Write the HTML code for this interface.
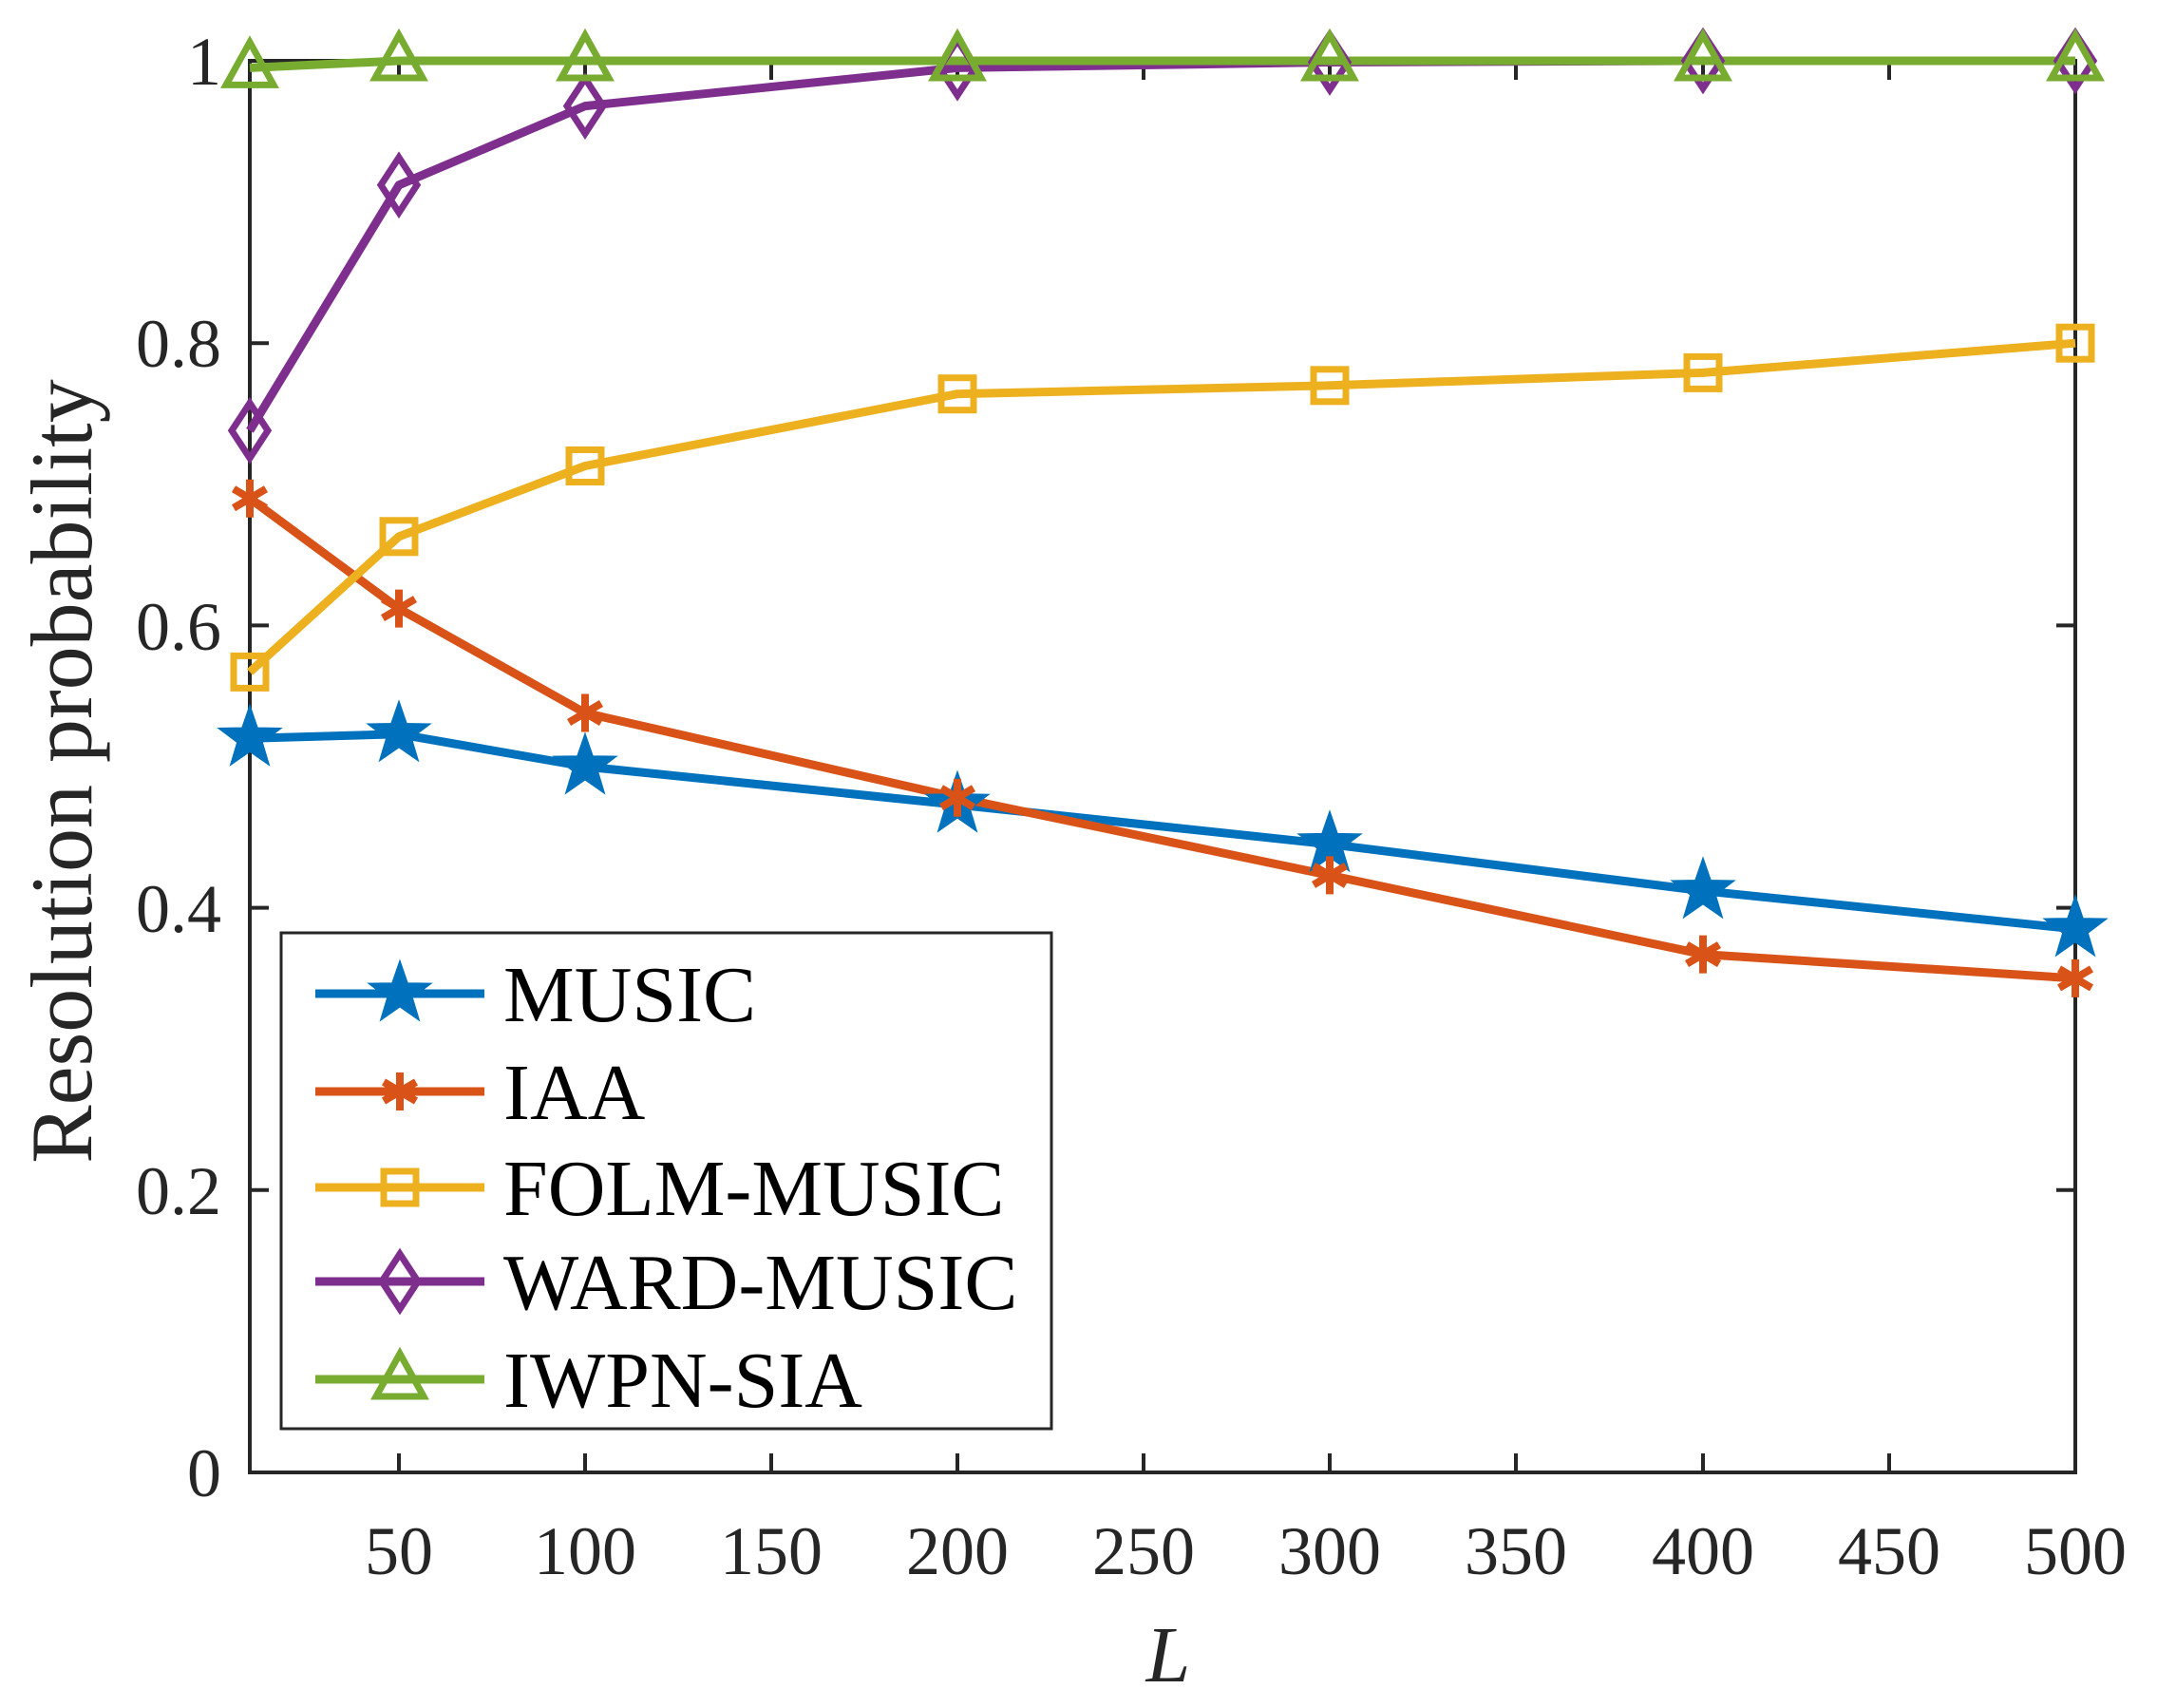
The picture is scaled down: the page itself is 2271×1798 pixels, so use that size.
<!DOCTYPE html>
<html><head><meta charset="utf-8"><style>body{margin:0;background:#fff}svg{display:block}</style></head><body>
<svg width="2271" height="1798" viewBox="0 0 2271 1798" xmlns="http://www.w3.org/2000/svg" font-family="'Liberation Serif',serif" fill="#262626">
<defs>
<g id="star"><path d="M0,-32 L7.5,-10.3 L30.4,-9.9 L12.2,3.9 L18.8,25.9 L0,12.8 L-18.8,25.9 L-12.2,3.9 L-30.4,-9.9 L-7.5,-10.3Z" fill="#0072BD" stroke="#0072BD" stroke-width="3"/></g>
<g id="ast" stroke="#D95319" stroke-width="8" fill="none"><path d="M0,-20V20M-17,-10L17,10M-17,10L17,-10"/></g>
<g id="sq"><rect x="-17" y="-17" width="34" height="34" fill="none" stroke="#EDB120" stroke-width="7"/></g>
<g id="dia"><path d="M0,-29L19,0L0,29L-19,0Z" fill="none" stroke="#7E2F8E" stroke-width="7"/></g>
<g id="tri"><path d="M0,-27L25,18L-25,18Z" fill="none" stroke="#77AC30" stroke-width="7"/></g>
</defs>
<rect x="263" y="64" width="1922" height="1486" fill="none" stroke="#262626" stroke-width="4"/>
<g stroke="#262626" stroke-width="4">
<path d="M420,1550v-20M616,1550v-20M812,1550v-20M1008,1550v-20M1204,1550v-20M1400,1550v-20M1596,1550v-20M1793,1550v-20M1989,1550v-20"/>
<path d="M420,64v20M616,64v20M812,64v20M1008,64v20M1204,64v20M1400,64v20M1596,64v20M1793,64v20M1989,64v20"/>
<path d="M263,1252.8h20M263,955.6h20M263,658.4h20M263,361.2h20M2185,1252.8h-20M2185,955.6h-20M2185,658.4h-20M2185,361.2h-20"/>
</g>
<g font-size="72" text-anchor="middle">
<text x="420" y="1657">50</text><text x="616" y="1657">100</text><text x="812" y="1657">150</text><text x="1008" y="1657">200</text><text x="1204" y="1657">250</text><text x="1400" y="1657">300</text><text x="1596" y="1657">350</text><text x="1793" y="1657">400</text><text x="1989" y="1657">450</text><text x="2185" y="1657">500</text>
</g>
<g font-size="72" text-anchor="end">
<text x="233" y="1575">0</text><text x="233" y="1278">0.2</text><text x="233" y="981">0.4</text><text x="233" y="684">0.6</text><text x="233" y="386">0.8</text><text x="233" y="89">1</text>
</g>
<text x="1230" y="1770" font-size="84" font-style="italic" text-anchor="middle">L</text>
<text transform="translate(96,812) rotate(-90)" font-size="92" text-anchor="middle">Resolution probability</text>
<g fill="none" stroke-width="9" stroke-linejoin="round">
<polyline stroke="#0072BD" points="263,777.3 420,772.8 616,807 1008,847.1 1400,888.7 1793,937.8 2185,977.9"/>
<polyline stroke="#D95319" points="263,524.7 420,640.6 616,750.5 1008,839.7 1400,921.4 1793,1004.6 2185,1029.9"/>
<polyline stroke="#EDB120" points="263,707.4 420,564.8 616,490.5 1008,414.7 1400,405.8 1793,392.4 2185,361.2"/>
<polyline stroke="#7E2F8E" points="263,453.3 420,194.8 616,111.6 1008,71.4 1400,65.5 1793,64 2185,64"/>
<polyline stroke="#77AC30" points="263,71.4 420,64 616,64 1008,64 1400,64 1793,64 2185,64"/>
</g>
<use href="#star" x="263" y="777.3"/><use href="#star" x="420" y="772.8"/><use href="#star" x="616" y="807"/><use href="#star" x="1008" y="847.1"/><use href="#star" x="1400" y="888.7"/><use href="#star" x="1793" y="937.8"/><use href="#star" x="2185" y="977.9"/>
<use href="#ast" x="263" y="524.7"/><use href="#ast" x="420" y="640.6"/><use href="#ast" x="616" y="750.5"/><use href="#ast" x="1008" y="839.7"/><use href="#ast" x="1400" y="921.4"/><use href="#ast" x="1793" y="1004.6"/><use href="#ast" x="2185" y="1029.9"/>
<use href="#sq" x="263" y="707.4"/><use href="#sq" x="420" y="564.8"/><use href="#sq" x="616" y="490.5"/><use href="#sq" x="1008" y="414.7"/><use href="#sq" x="1400" y="405.8"/><use href="#sq" x="1793" y="392.4"/><use href="#sq" x="2185" y="361.2"/>
<use href="#dia" x="263" y="453.3"/><use href="#dia" x="420" y="194.8"/><use href="#dia" x="616" y="111.6"/><use href="#dia" x="1008" y="71.4"/><use href="#dia" x="1400" y="65.5"/><use href="#dia" x="1793" y="64"/><use href="#dia" x="2185" y="64"/>
<use href="#tri" x="263" y="71.4"/><use href="#tri" x="420" y="64"/><use href="#tri" x="616" y="64"/><use href="#tri" x="1008" y="64"/><use href="#tri" x="1400" y="64"/><use href="#tri" x="1793" y="64"/><use href="#tri" x="2185" y="64"/>
<rect x="296" y="982" width="811" height="522" fill="#fff" stroke="#262626" stroke-width="3"/>
<g stroke-width="9">
<path d="M332,1046H510" stroke="#0072BD"/><path d="M332,1149H510" stroke="#D95319"/><path d="M332,1250H510" stroke="#EDB120"/><path d="M332,1349H510" stroke="#7E2F8E"/><path d="M332,1452H510" stroke="#77AC30"/>
</g>
<use href="#star" x="421" y="1046"/><use href="#ast" x="421" y="1149"/><use href="#sq" x="421" y="1250"/><use href="#dia" x="421" y="1349"/><use href="#tri" x="421" y="1452"/>
<g font-size="84" fill="#000">
<text x="530" y="1075">MUSIC</text><text x="530" y="1178">IAA</text><text x="530" y="1279">FOLM-MUSIC</text><text x="530" y="1378">WARD-MUSIC</text><text x="530" y="1481">IWPN-SIA</text>
</g>
</svg>
</body></html>
